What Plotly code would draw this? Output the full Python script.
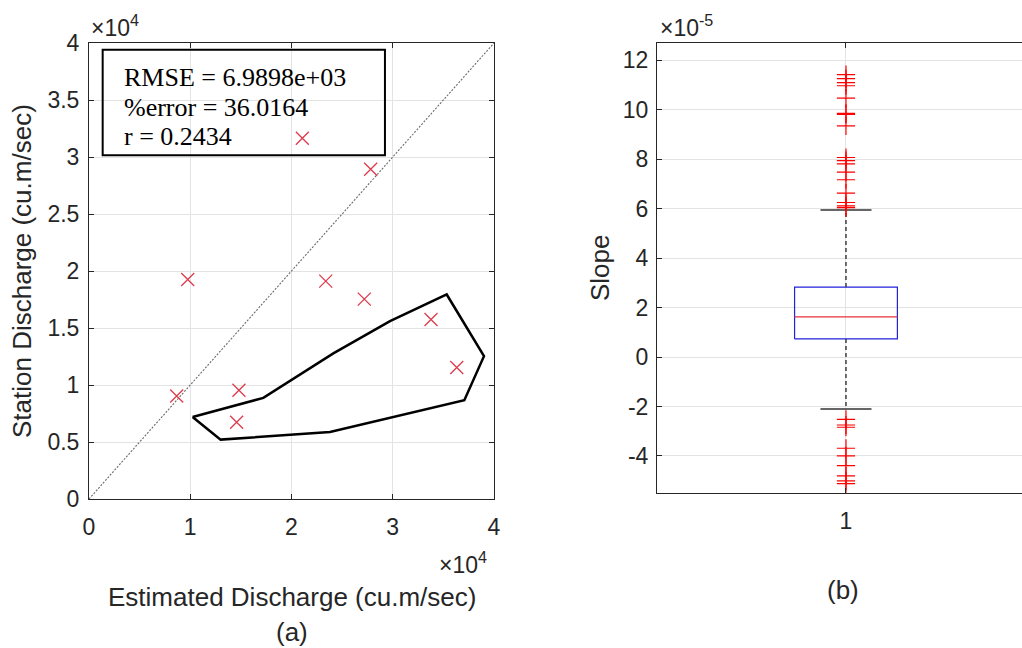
import plotly.graph_objects as go

# ---------------- data: panel (a) ----------------
est_discharge = [21070, 27820, 9750, 23380, 27190, 33780, 36320, 8660, 14810, 14580]
sta_discharge = [31640, 28920, 19260, 19110, 17530, 15750, 11540, 9040, 9540, 6730]
hull_x = [10230, 13000, 23800, 37070, 39010, 35330, 29730, 24130, 17220, 10230]
hull_y = [7200, 5210, 5880, 8670, 12530, 17940, 15600, 12770, 8870, 7200]
stats_text = ["RMSE = 6.9898e+03", "%error = 36.0164", "r = 0.2434"]
x_ticks_a = [0, 10000, 20000, 30000, 40000]
x_ticklabels_a = ["0", "1", "2", "3", "4"]
y_ticks_a = [0, 5000, 10000, 15000, 20000, 25000, 30000, 35000, 40000]
y_ticklabels_a = ["0", "0.5", "1", "1.5", "2", "2.5", "3", "3.5", "4"]

# ---------------- data: panel (b) (values in units of 1e-5) ----------------
box_q1 = 0.73
box_median = 1.62
box_q3 = 2.83
whisker_low = -2.10
whisker_high = 5.95
outliers_high = [11.42, 11.26, 11.10, 10.97, 10.47, 9.85, 9.81, 9.35, 8.07, 7.94,
                 7.81, 7.48, 7.17, 6.63, 6.25, 6.11, 6.04]
outliers_low = [-2.52, -2.75, -2.84, -3.69, -4.00, -4.39, -4.81, -5.01, -5.12]
group = 1
y_ticks_b = [-4, -2, 0, 2, 4, 6, 8, 10, 12]

W, H = 1022, 648
def px(x):
    return x / W
def py(y):
    return 1 - y / H

AX = "#262626"
GRID = "#e3e3e3"
SANS = "Liberation Sans, Arial, sans-serif"
SERIF = "Liberation Serif, Times New Roman, serif"

fig = go.Figure()

# (a) diagonal 1:1 line
fig.add_trace(go.Scatter(x=[x_ticks_a[0], x_ticks_a[-1]], y=[y_ticks_a[0], y_ticks_a[-1]],
                         mode="lines", line=dict(color="#6a6a6a", width=1.1, dash="2px,1.5px"),
                         xaxis="x", yaxis="y", showlegend=False, hoverinfo="skip"))
# (a) hull polygon
fig.add_trace(go.Scatter(x=hull_x, y=hull_y, mode="lines",
                         line=dict(color="black", width=2.5),
                         xaxis="x", yaxis="y", showlegend=False))
# (a) scatter markers
fig.add_trace(go.Scatter(x=est_discharge, y=sta_discharge, mode="markers",
                         marker=dict(symbol="x-thin", size=13,
                                     line=dict(color="#dd3b4c", width=1.3)),
                         xaxis="x", yaxis="y", showlegend=False))

# (b) box
bw = 0.136
cw = 0.0675
fig.add_trace(go.Scatter(x=[group - bw, group + bw, group + bw, group - bw, group - bw],
                         y=[box_q1, box_q1, box_q3, box_q3, box_q1], mode="lines",
                         line=dict(color="#2222dd", width=1.2),
                         xaxis="x2", yaxis="y2", showlegend=False))
fig.add_trace(go.Scatter(x=[group - bw, group + bw], y=[box_median, box_median], mode="lines",
                         line=dict(color="#e8303a", width=1.2),
                         xaxis="x2", yaxis="y2", showlegend=False))
# whiskers
for a, b in [(box_q3, whisker_high), (box_q1, whisker_low)]:
    fig.add_trace(go.Scatter(x=[group, group], y=[a, b], mode="lines",
                             line=dict(color="#333333", width=1.4, dash="4px,3px"),
                             xaxis="x2", yaxis="y2", showlegend=False))
for v in [whisker_high, whisker_low]:
    fig.add_trace(go.Scatter(x=[group - cw, group + cw], y=[v, v], mode="lines",
                             line=dict(color="#333333", width=1.5),
                             xaxis="x2", yaxis="y2", showlegend=False))
# outliers
outs = outliers_high + outliers_low
fig.add_trace(go.Scatter(x=[group] * len(outs), y=outs, mode="markers",
                         marker=dict(symbol="cross-thin", size=13,
                                     line=dict(color="#ff0000", width=1.2)),
                         xaxis="x2", yaxis="y2", showlegend=False))

# stats text box
fig.add_shape(type="rect", xref="x", yref="y", x0=1350, x1=29230, y0=30150, y1=39400,
              line=dict(color="black", width=2), fillcolor="rgba(0,0,0,0)", layer="above")
for i, t in enumerate(stats_text):
    fig.add_annotation(x=px(122), y=py(78 + 29.5 * i), xref="paper", yref="paper",
                       text=t, showarrow=False, xanchor="left", yanchor="middle",
                       font=dict(family=SERIF, size=26, color="black"))

axis_common = dict(showline=True, linecolor=AX, linewidth=1, ticks="inside", ticklen=5,
                   tickcolor=AX, showgrid=True, gridcolor=GRID, gridwidth=1, zeroline=False,
                   automargin=False, tickfont=dict(family=SANS, size=23, color=AX))

fig.update_layout(
    width=W, height=H, margin=dict(l=0, r=0, t=0, b=0, autoexpand=False),
    paper_bgcolor="white", plot_bgcolor="white", showlegend=False,
    xaxis=dict(domain=[px(89), px(494)], range=[0, 40000], tickvals=x_ticks_a,
               ticktext=x_ticklabels_a, mirror="ticks", anchor="y",
               ticklabelstandoff=7, **axis_common),
    yaxis=dict(domain=[py(499), py(43)], range=[0, 40000], tickvals=y_ticks_a,
               ticktext=y_ticklabels_a, mirror="ticks", anchor="x",
               ticklabelstandoff=4, **axis_common),
    xaxis2=dict(domain=[px(657), 1.0], range=[0.5, 1.4657], tickvals=[group],
                ticktext=[str(group)], mirror="ticks", anchor="y2",
                ticklabelstandoff=7, **axis_common),
    yaxis2=dict(domain=[py(493), py(43)], range=[-5.5, 12.7], tickvals=y_ticks_b,
                ticktext=[str(v) for v in y_ticks_b], mirror=False, anchor="x2",
                ticklabelstandoff=3, **axis_common),
)

def label(text, x, y, size=25, angle=0, xanchor="center"):
    fig.add_annotation(x=px(x), y=py(y), xref="paper", yref="paper", text=text,
                       showarrow=False, textangle=angle, xanchor=xanchor, yanchor="middle",
                       font=dict(family=SANS, size=size, color=AX))

label("×10<sup>4</sup>", 89, 26, size=23, xanchor="left")
label("×10<sup>4</sup>", 437, 563, size=23, xanchor="left")
label("Estimated Discharge (cu.m/sec)", 292, 597, size=26)
label("(a)", 292, 632, size=26)
label("Station Discharge (cu.m/sec)", 22, 271, size=26, angle=-90)
label("×10<sup>-5</sup>", 658, 26, size=23, xanchor="left")
label("Slope", 600, 268, size=26, angle=-90)
label("(b)", 843, 590, size=26)

fig.write_html("out.html", config={"displayModeBar": False},
               post_script="document.body.style.margin='0';document.body.style.overflow='hidden';")
